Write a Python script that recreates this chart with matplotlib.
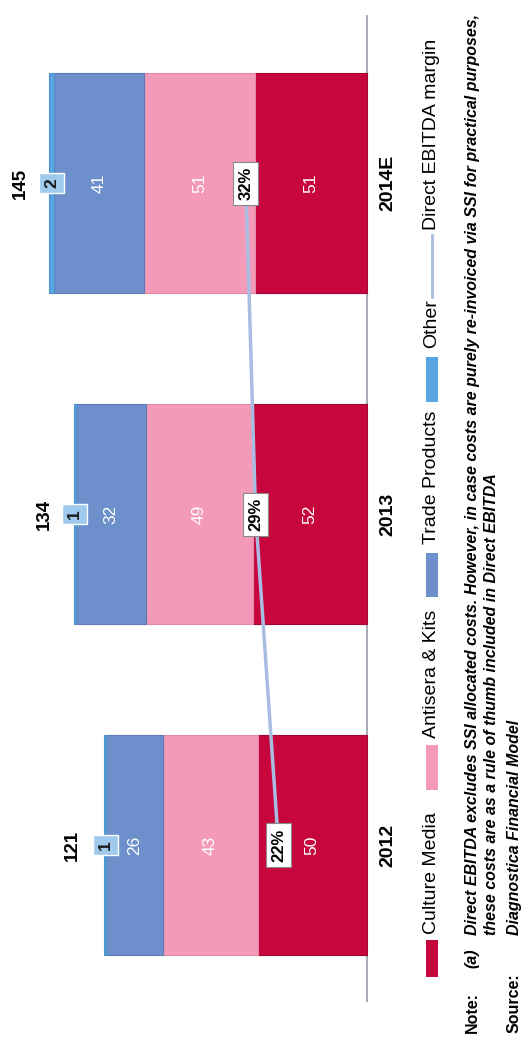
import numpy as np
import matplotlib
matplotlib.use('Agg')
import matplotlib.pyplot as plt
from matplotlib.patches import Rectangle
from matplotlib.lines import Line2D

# datos (el grafico original esta girado 90 grados)
years = ['2012', '2013', '2014E']
culture_media = [50, 52, 51]
antisera_kits = [43, 49, 51]
trade_products = [26, 32, 41]
other = [1, 1, 2]
totals = [121, 134, 145]
margin = [22, 29, 32]

series_names = ['Culture Media', 'Antisera & Kits', 'Trade Products', 'Other']
cm_color = '#c8063e'
ak_color = '#f29ab7'
tp_color = '#6d8fcb'
ot_color = '#5aa6e2'
line_color = '#a9bde2'

plt.rcParams['font.family'] = ['Liberation Sans', 'DejaVu Sans']

W, H = 530, 1037
def fx(x):
    return x / W
def fy(y):
    return 1 - y / H

fig = plt.figure(figsize=(5.3, 10.37), dpi=100)
ax = fig.add_axes([fx(30), fy(1002), (372 - 30) / W, (1002 - 15) / H])

cats = np.arange(len(years))
series = [culture_media, antisera_kits, trade_products, other]
colors = [cm_color, ak_color, tp_color, ot_color]
edges = ['#a0052f', '#e38aa7', '#5b7cb8', '#4c93cc']
left = np.zeros(len(years))
for vals, c, ec in zip(series, colors, edges):
    ax.barh(cats, vals, left=left, height=0.665, color=c, edgecolor=ec, linewidth=0.8, zorder=2)
    left = left + np.array(vals)

# etiquetas de los segmentos
left = np.zeros(len(years))
for vals in series[:3]:
    for i, v in enumerate(vals):
        ax.text(left[i] + v / 2, i, str(v), rotation=90, ha='center', va='center',
                color='white', fontsize=12.5, zorder=4)
    left = left + np.array(vals)

# "Other" en cajita, totales y años
for i, v in enumerate(other):
    ax.text(left[i] + v / 2, i, str(v), rotation=90, ha='center', va='center',
            color='#1a1a1a', fontsize=12.5, fontweight='bold', zorder=5,
            bbox=dict(boxstyle='square,pad=0.3', facecolor='#9fcaee', edgecolor='white', linewidth=1))
    ax.text(totals[i] + 13.5, i, str(totals[i]), rotation=90, ha='center', va='center',
            color='black', fontsize=13.5, fontweight='bold')
    ax.text(-9.5, i, years[i], rotation=90, ha='center', va='center',
            color='black', fontsize=14, fontweight='bold')

ax.axvline(0, color='#9ea4b4', linewidth=1.3, zorder=1)
ax.set_xlim(153.9, -2.28)
ax.set_ylim(-0.474, 2.508)
ax.axis('off')

# linea del margen EBITDA (eje secundario)
ax2 = ax.twiny()
ax2.set_xlim(98.0, -6.6)
ax2.plot(margin, cats, color=line_color, linewidth=2.5, zorder=3)
for i, m in enumerate(margin):
    ax2.text(m, i, '%d%%' % m, rotation=90, ha='center', va='center', color='black',
             fontsize=12, fontweight='bold', zorder=6,
             bbox=dict(boxstyle='square,pad=0.3', facecolor='white', edgecolor='#8a8a8a', linewidth=0.8))
ax2.axis('off')

# leyenda (girada a mano)
lx = 432
patches_y = [(940, 977), (745, 790), (553, 597), (357, 402)]
text_start = [934, 738, 544, 348]
for (y0, y1), c, name, ts in zip(patches_y, colors, series_names, text_start):
    fig.patches.append(Rectangle((fx(lx - 6), fy(y1)), 12 / W, (y1 - y0) / H,
                                 transform=fig.transFigure, facecolor=c, edgecolor='none'))
    fig.text(fx(lx), fy(ts), name, rotation=90, ha='center', va='bottom', fontsize=14)
fig.lines.append(Line2D([fx(lx), fx(lx)], [fy(297), fy(235)], transform=fig.transFigure,
                        color=line_color, linewidth=2))
fig.text(fx(lx), fy(230), 'Direct EBITDA margin', rotation=90, ha='center', va='bottom', fontsize=14)

# notas
note_kw = dict(rotation=90, ha='center', va='bottom', fontsize=11.5, fontweight='bold')
fig.text(fx(472), fy(1033), 'Note:', **note_kw)
fig.text(fx(472), fy(968), '(a)', style='italic', **note_kw)
fig.text(fx(472), fy(935), 'Direct EBITDA excludes SSI allocated costs. However, in case costs are purely '
         're-invoiced via SSI for practical purposes,', style='italic', **note_kw)
fig.text(fx(492), fy(935), 'these costs are as a rule of thumb included in Direct EBITDA',
         style='italic', **note_kw)
fig.text(fx(514), fy(1033), 'Source:', **note_kw)
fig.text(fx(514), fy(935), 'Diagnostica Financial Model', style='italic', **note_kw)

fig.savefig('out.png', dpi=100, facecolor='white')
